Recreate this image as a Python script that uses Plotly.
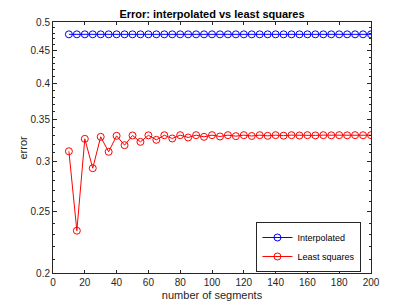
import plotly.graph_objects as go
import numpy as np

segments = list(range(10, 205, 5))
interpolated = [0.478] * len(segments)
least_squares = [0.3119, 0.2334, 0.3264, 0.2932, 0.3288, 0.3113, 0.3300, 0.3189,
                 0.3304, 0.3228, 0.3306, 0.3252, 0.3307, 0.3268, 0.3308, 0.3280,
                 0.3308, 0.3288, 0.3308, 0.3292, 0.3308, 0.3296, 0.3308, 0.3298,
                 0.3308, 0.3300, 0.3308, 0.3302, 0.3308, 0.3304, 0.3308, 0.3305,
                 0.3308, 0.3306, 0.3308, 0.3306, 0.3308, 0.3307, 0.3308]

x_ticks = list(range(0, 201, 20))
y_ticks = [0.2, 0.25, 0.3, 0.35, 0.4, 0.45, 0.5]
y_minor = [round(v, 2) for v in np.arange(0.21, 0.50, 0.01) if round(v, 2) not in y_ticks]

axcol = "#262626"
fig = go.Figure()
fig.add_trace(go.Scatter(x=segments, y=interpolated, mode="lines+markers", name="Interpolated",
                         line=dict(color="rgb(0,0,255)", width=1),
                         marker=dict(symbol="circle-open", size=7, color="rgb(0,0,255)", line=dict(width=1))))
fig.add_trace(go.Scatter(x=segments, y=least_squares, mode="lines+markers", name="Least squares",
                         line=dict(color="rgb(255,0,0)", width=1),
                         marker=dict(symbol="circle-open", size=7, color="rgb(255,0,0)", line=dict(width=1))))

fig.update_layout(
    width=409, height=307,
    margin=dict(l=53, r=38, t=22, b=34, autoexpand=False),
    paper_bgcolor="white", plot_bgcolor="white",
    font=dict(family="Liberation Sans, Arial, sans-serif", size=10, color=axcol),
    title=dict(text="<b>Error: interpolated vs least squares</b>", x=0.5, xanchor="center",
               xref="paper", y=1 - 14 / 307, yanchor="middle", font=dict(size=11, color="black")),
    showlegend=True,
    legend=dict(x=0.97, xanchor="right", y=0.004, yanchor="bottom", bordercolor=axcol,
                borderwidth=1, bgcolor="white", font=dict(size=9, color="black"),
                tracegroupgap=0, itemwidth=30),
    annotations=[dict(text="error", textangle=-90, xref="paper", yref="paper",
                      x=(22 - 53) / 318, y=0.5, xanchor="center", yanchor="middle",
                      showarrow=False, font=dict(size=11, color=axcol))],
)
fig.update_xaxes(range=[0, 200], tickvals=x_ticks, ticks="inside", ticklen=3, tickcolor=axcol,
                 showline=True, linecolor=axcol, linewidth=1, mirror="ticks", showgrid=False,
                 automargin=False,
                 zeroline=False, title=dict(text="number of segments", standoff=4, font=dict(size=11)))
fig.update_yaxes(type="log", range=[np.log10(0.2), np.log10(0.5)], tickvals=y_ticks,
                 ticktext=[str(v) for v in y_ticks], ticks="inside", ticklen=4, tickcolor=axcol,
                 showline=True, linecolor=axcol, linewidth=1, mirror="ticks", showgrid=False,
                 automargin=False, zeroline=False,
                 minor=dict(tickvals=y_minor, ticks="inside", ticklen=2, tickcolor=axcol))
fig.write_html("out.html", config={"displayModeBar": False},
               post_script="document.body.style.margin='0px';document.body.style.overflow='hidden';")
